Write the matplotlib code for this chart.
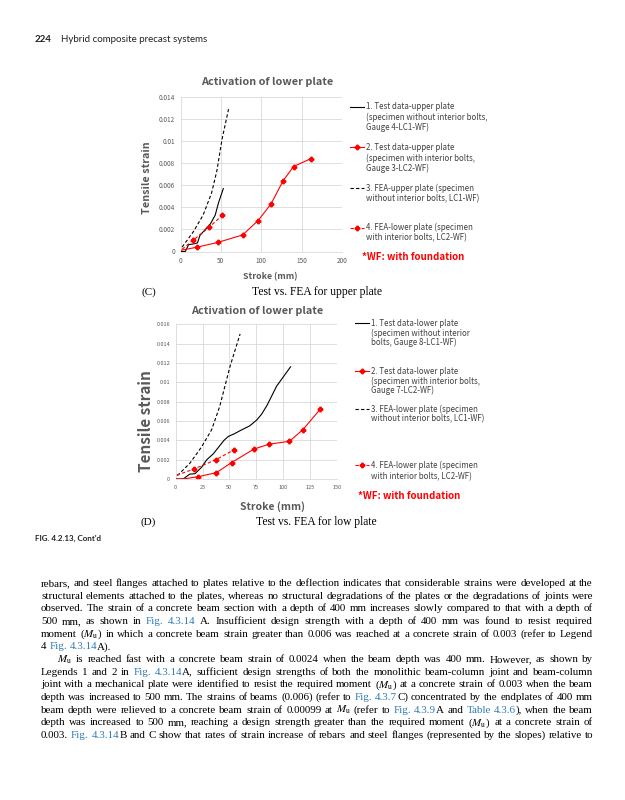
import re
import matplotlib
matplotlib.use("Agg")
import matplotlib.pyplot as plt
from matplotlib.lines import Line2D

W, H = 625, 800
plt.rcParams['mathtext.fontset'] = 'stix'

# ---------------- data ----------------
# Chart C (upper plate)
c_x_ticks = [0, 50, 100, 150, 200]
c_y_ticks = [0, 0.002, 0.004, 0.006, 0.008, 0.01, 0.012, 0.014]
c_y_labels = ["0", "0.002", "0.004", "0.006", "0.008", "0.01", "0.012", "0.014"]
c1_x = [0, 6, 10, 17, 21, 24, 32, 37, 43, 47, 53]
c1_y = [0, 0, 0.00062, 0.0007, 0.00078, 0.00145, 0.0021, 0.0025, 0.0033, 0.0044, 0.0057]
c2_x = [0, 21, 46, 77, 96, 112, 127, 140, 161]
c2_y = [0.0001, 0.0004, 0.00082, 0.0015, 0.0028, 0.0043, 0.0064, 0.0077, 0.0084]
c2_marks = [1, 2, 3, 4, 5, 6, 7, 8]
c3_x = [2, 16, 28, 38.5, 45, 51.5, 59.5]
c3_y = [0.0004, 0.0018, 0.0033, 0.0053, 0.0073, 0.0102, 0.0129]
c4_x = [2, 16, 35.5, 52]
c4_y = [0.0002, 0.00105, 0.0022, 0.0033]
c4_marks = [1, 2, 3]

# Chart D (lower plate)
d_x_ticks = [0, 25, 50, 75, 100, 125, 150]
d_y_ticks = [0, 0.002, 0.004, 0.006, 0.008, 0.01, 0.012, 0.014, 0.016]
d_y_labels = ["0", "0.002", "0.004", "0.006", "0.008", "0.01", "0.012", "0.014", "0.016"]
d1_x = [0, 7, 13, 18, 24, 29, 35, 40, 45, 49, 55, 60, 69, 75.5, 80, 85, 94, 107]
d1_y = [0, 0, 0.0005, 0.00055, 0.0012, 0.002, 0.0026, 0.0033, 0.0040, 0.0044, 0.0047, 0.0050, 0.0055, 0.0061, 0.0067, 0.0076, 0.0096, 0.0116]
d2_x = [0, 7, 21, 38, 52, 73, 87, 106, 118.5, 134.5]
d2_y = [0, 0, 0.00024, 0.00066, 0.0017, 0.0031, 0.0036, 0.0039, 0.0051, 0.0072]
d2_marks = [2, 3, 4, 5, 6, 7, 8, 9]
d3_x = [1.5, 13, 24, 33.5, 41, 50.5, 60]
d3_y = [0.00035, 0.0016, 0.0033, 0.0051, 0.0075, 0.0116, 0.015]
d4_x = [1, 17, 37.5, 54]
d4_y = [0.0004, 0.00103, 0.002, 0.003]
d4_marks = [1, 2, 3]

c_legend = [
    ["1. Test data-upper plate", "(specimen without interior bolts,", "Gauge 4-LC1-WF)"],
    ["2. Test data-upper plate", "(specimen with interior bolts,", "Gauge 3-LC2-WF)"],
    ["3. FEA-upper plate (specimen", "without interior bolts, LC1-WF)"],
    ["4. FEA-lower plate (specimen", "with interior bolts, LC2-WF)"],
]
d_legend = [
    ["1. Test data-lower plate", "(specimen without interior", "bolts, Gauge 8-LC1-WF)"],
    ["2. Test data-lower plate", "(specimen with interior bolts,", "Gauge 7-LC2-WF)"],
    ["3. FEA-lower plate (specimen", "without interior bolts, LC1-WF)"],
    ["4. FEA-lower plate (specimen", "with interior bolts, LC2-WF)"],
]

body_lines = [
    ("rebars, and steel flanges attached to plates relative to the deflection indicates that considerable strains were developed at the", True, False),
    ("structural elements attached to the plates, whereas no structural degradations of the plates or the degradations of joints were", True, False),
    ("observed. The strain of a concrete beam section with a depth of 400 mm increases slowly compared to that with a depth of", True, False),
    ("500 mm, as shown in <Fig. 4.3.14> A. Insufficient design strength with a depth of 400 mm was found to resist required", True, False),
    ("moment ($M_{\\mathrm{u}}$) in which a concrete beam strain greater than 0.006 was reached at a concrete strain of 0.003 (refer to Legend", True, False),
    ("4 <Fig. 4.3.14>A).", False, False),
    ("$M_{\\mathrm{u}}$ is reached fast with a concrete beam strain of 0.0024 when the beam depth was 400 mm. However, as shown by", True, True),
    ("Legends 1 and 2 in <Fig. 4.3.14>A, sufficient design strengths of both the monolithic beam-column joint and beam-column", True, False),
    ("joint with a mechanical plate were identified to resist the required moment ($M_{\\mathrm{u}}$) at a concrete strain of 0.003 when the beam", True, False),
    ("depth was increased to 500 mm. The strains of beams (0.006) (refer to <Fig. 4.3.7>C) concentrated by the endplates of 400 mm", True, False),
    ("beam depth were relieved to a concrete beam strain of 0.00099 at $M_{\\mathrm{u}}$ (refer to <Fig. 4.3.9>A and <Table 4.3.6>), when the beam", True, False),
    ("depth was increased to 500 mm, reaching a design strength greater than the required moment ($M_{\\mathrm{u}}$) at a concrete strain of", True, False),
    ("0.003. <Fig. 4.3.14>B and C show that rates of strain increase of rebars and steel flanges (represented by the slopes) relative to", True, False),
]

# ---------------- helpers ----------------
fig = plt.figure(figsize=(W / 100, H / 100), dpi=100)
GRAY = "#595959"
RED = "#ff0000"
BLUE = "#2f7bb5"
CFONT = ["Noto Sans CJK KR", "DejaVu Sans"]
renderer = fig.canvas.get_renderer()


def fx(x):
    return x / W


def fy(y):
    return 1 - y / H


def ftext(x, y, s, **kw):
    return fig.text(fx(x), fy(y), s, **kw)


def make_axes(left, right, top, bottom, xt, yt, ylabels, xmax, ymax, fs):
    ax = fig.add_axes([fx(left), fy(bottom), fx(right) - fx(left), (bottom - top) / H])
    ax.set_xlim(0, xmax)
    ax.set_ylim(0, ymax)
    ax.set_xticks(xt)
    ax.set_xticklabels([str(v) for v in xt])
    ax.set_yticks(yt)
    ax.set_yticklabels(ylabels)
    ax.grid(True, color="#d9d9d9", lw=0.6)
    ax.set_axisbelow(True)
    for s in ["top", "right", "left"]:
        ax.spines[s].set_visible(False)
    ax.spines["bottom"].set_color("#d9d9d9")
    ax.spines["bottom"].set_linewidth(0.6)
    ax.tick_params(length=0, labelsize=fs, labelcolor=GRAY, pad=4)
    for lab in ax.get_xticklabels() + ax.get_yticklabels():
        lab.set_fontfamily(CFONT)
    return ax


def plot_series(ax, s1, s2, m2, s3, s4, m4):
    ax.plot(*s1, color="black", lw=0.8)
    ax.plot(*s2, color=RED, lw=0.8, marker="P", ms=3.2, markevery=m2)
    ax.plot(*s3, color="black", lw=0.8, ls=(0, (3, 2)))
    ax.plot(*s4, color=RED, lw=0.8, ls=(0, (3, 2)), marker="P", ms=3.2, markevery=m4)


def legend(x_line0, x_line1, x_text, entries, ys, fs, wf_xy, wf_fs):
    styles = [("black", "-", None), (RED, "-", "P"), ("black", (0, (3, 2)), None), (RED, (0, (3, 2)), "P")]
    for (col, ls, mk), lines, yy in zip(styles, entries, ys):
        y0 = yy[0]
        fig.add_artist(Line2D([fx(x_line0), fx(x_line1)], [fy(y0), fy(y0)], color=col, ls=ls, lw=0.8,
                              transform=fig.transFigure))
        if mk:
            fig.add_artist(Line2D([fx((x_line0 + x_line1) / 2)], [fy(y0)], color=col, marker=mk, ms=3.2, ls="none",
                                  transform=fig.transFigure))
        for s, y in zip(lines, yy):
            ftext(x_text, y, s, fontsize=fs, color="#404040", family=CFONT, va="center", ha="left")
    ftext(wf_xy[0], wf_xy[1], "*WF: with foundation", fontsize=wf_fs, color=RED, family=CFONT,
          fontweight="bold", va="center", ha="left")


# ---------------- header ----------------
ftext(35, 40, "224", fontsize=7, family="Lato", fontweight="bold", va="center", color="#222222")
ftext(61, 40, "Hybrid composite precast systems", fontsize=7, family="Lato", va="center", color="#222222")

# ---------------- chart C ----------------
axc = make_axes(180.5, 342, 97, 251.5, c_x_ticks, c_y_ticks, c_y_labels, 200, 0.014, 4.6)
plot_series(axc, (c1_x, c1_y), (c2_x, c2_y), c2_marks, (c3_x, c3_y), (c4_x, c4_y), c4_marks)
ftext(267, 82, "Activation of lower plate", fontsize=7.8, fontweight="bold", color=GRAY, family=CFONT,
      ha="center", va="center")
ftext(147, 178, "Tensile strain", fontsize=7.8, fontweight="bold", color=GRAY, family=CFONT,
      ha="center", va="center", rotation=90)
ftext(270, 277, "Stroke (mm)", fontsize=6.3, fontweight="bold", color=GRAY, family=CFONT, ha="center", va="center")
legend(350, 364, 366, c_legend,
       [[106.7, 117.5, 127.7], [147.3, 158, 168], [188.3, 198.3], [227.7, 237.5]],
       5.7, (361.5, 257.5), 7.0)

ftext(149, 292, "(C)", fontsize=8, family="Liberation Serif", ha="center", va="center")
ftext(317, 292, "Test vs. FEA for upper plate", fontsize=8.3, family="Liberation Serif", ha="center", va="center")

# ---------------- chart D ----------------
axd = make_axes(175.7, 336.7, 324.3, 479, d_x_ticks, d_y_ticks, d_y_labels, 150, 0.016, 4.0)
plot_series(axd, (d1_x, d1_y), (d2_x, d2_y), d2_marks, (d3_x, d3_y), (d4_x, d4_y), d4_marks)
ftext(257, 311, "Activation of lower plate", fontsize=7.8, fontweight="bold", color=GRAY, family=CFONT,
      ha="center", va="center")
ftext(146, 421, "Tensile strain", fontsize=11, fontweight="bold", color=GRAY, family=CFONT,
      ha="center", va="center", rotation=90)
ftext(272, 506.5, "Stroke (mm)", fontsize=7.5, fontweight="bold", color=GRAY, family=CFONT, ha="center", va="center")
legend(355, 369, 371, d_legend,
       [[323.3, 333.3, 342.7], [371, 381, 390], [409.3, 418.5], [465.3, 476.7]],
       5.7, (358.3, 496), 7.0)

ftext(148, 522, "(D)", fontsize=8, family="Liberation Serif", ha="center", va="center")
ftext(316, 522, "Test vs. FEA for low plate", fontsize=8.3, family="Liberation Serif", ha="center", va="center")

ftext(35, 538, "FIG. 4.2.13, Cont'd", fontsize=5.8, family="Lato", fontweight="bold", va="center", color="#222222")

# ---------------- body text (justified) ----------------
LEFT, RIGHT = 41, 593
INDENT = 16
BODY_FONT = "Liberation Serif"

# choose font size so that the first full line fits the column with normal spacing
probe = fig.text(0, 0, body_lines[0][0], fontsize=10, family=BODY_FONT)
probe_w = probe.get_window_extent(renderer).width
probe.remove()
BODY_FS = 10 * (RIGHT - LEFT) / probe_w * 0.985


def parse(line):
    segs = re.split(r"(<[^>]*>)", line)
    words = [[]]
    for s in segs:
        if not s:
            continue
        color = "black"
        if s.startswith("<"):
            color = BLUE
            s = s[1:-1]
        parts = s.split(" ")
        for i, p in enumerate(parts):
            if i > 0:
                words.append([])
            if p:
                words[-1].append((p, color))
    return [w for w in words if w]


y0, dy = 586, 12.67
natural_space = BODY_FS * 1.389 * 0.25
for i, (line, justify, indent) in enumerate(body_lines):
    y = y0 + i * dy
    x_start = LEFT + (INDENT if indent else 0)
    words = parse(line)
    arts = []
    widths = []
    for w in words:
        wa = []
        tw = 0
        for seg, col in w:
            t = fig.text(0, fy(y), seg, fontsize=BODY_FS, family=BODY_FONT, color=col, va="baseline")
            bw = t.get_window_extent(renderer).width
            wa.append((t, bw))
            tw += bw
        arts.append(wa)
        widths.append(tw)
    total = sum(widths)
    if justify and len(words) > 1:
        gap = (RIGHT - x_start - total) / (len(words) - 1)
    else:
        gap = natural_space
    x = x_start
    for wa, tw in zip(arts, widths):
        xx = x
        for t, bw in wa:
            t.set_x(fx(xx))
            xx += bw
        x += tw + gap

fig.savefig("out.png", dpi=100)
